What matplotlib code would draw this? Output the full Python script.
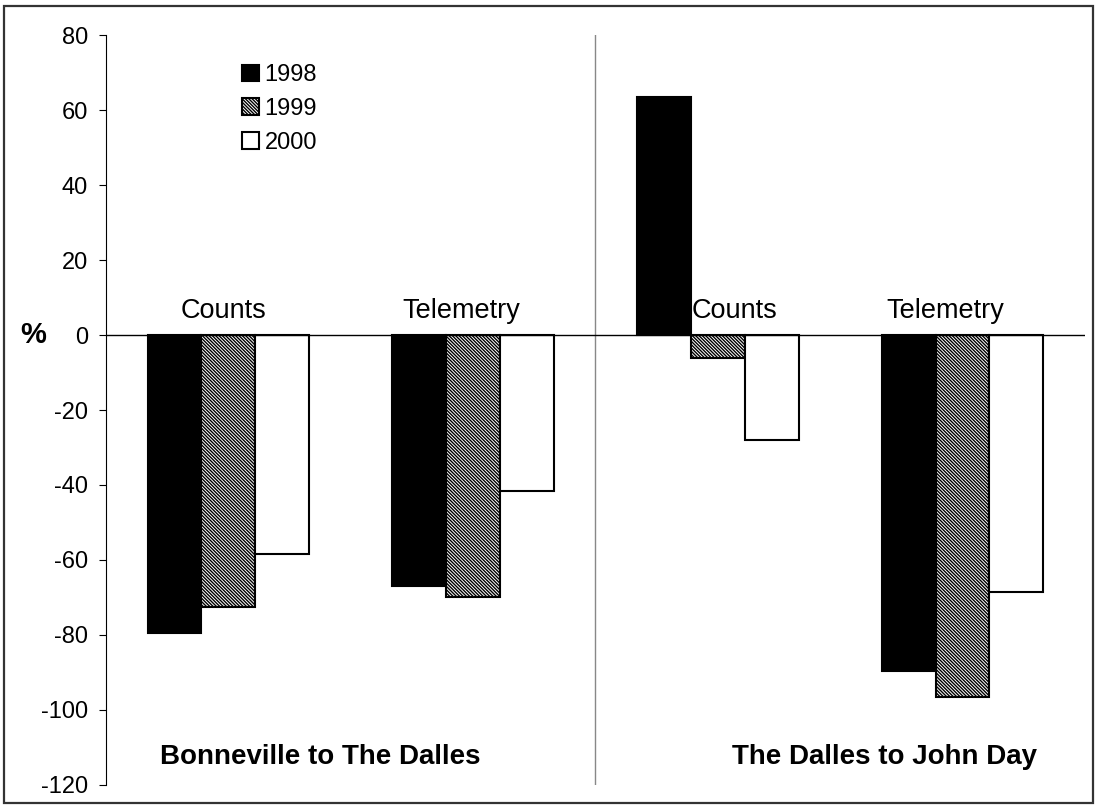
import matplotlib
matplotlib.use("Agg")
import matplotlib.pyplot as plt
import numpy as np
from matplotlib.patches import Rectangle

plt.rcParams['font.family'] = ['Liberation Sans', 'DejaVu Sans']
plt.rcParams['hatch.linewidth'] = 1.0

# ---- data ----
categories = ["Counts", "Telemetry", "Counts", "Telemetry"]
years = ["1998", "1999", "2000"]
v1998 = [-79.5, -67.0, 63.5, -89.5]
v1999 = [-72.5, -70.0, -6.0, -96.5]
v2000 = [-58.5, -41.5, -28.0, -68.5]
regions = ["Bonneville to The Dalles", "The Dalles to John Day"]
yticks = [80, 60, 40, 20, 0, -20, -40, -60, -80, -100, -120]

fig = plt.figure(figsize=(10.97, 8.09), dpi=100)
ax = fig.add_axes([0.0966, 0.0297, 0.8924, 0.927])

x = np.arange(len(categories))
w = 0.22
styles = [dict(color="black", edgecolor="black"),
          dict(color="white", edgecolor="black", hatch="\\" * 10),
          dict(color="white", edgecolor="black")]
series = [v1998, v1999, v2000]
for i, (vals, st, yr) in enumerate(zip(series, styles, years)):
    ax.bar(x + (i - 1) * w, vals, width=w, linewidth=1.5, label=yr, **st)

ax.set_xlim(-0.5, 3.5)
ax.set_ylim(-120, 80)
ax.set_yticks(yticks)
ax.set_yticklabels([str(t) for t in yticks], fontsize=17)
ax.tick_params(axis='y', direction='out', length=5, width=0.8, pad=8)
ax.set_xticks([])
for s in ["top", "right", "bottom"]:
    ax.spines[s].set_visible(False)
ax.spines["left"].set_linewidth(0.8)

ax.axhline(0, color="black", linewidth=1.0, zorder=3)
ax.axvline(1.5, color="#888888", linewidth=1.0, zorder=0)

label_dx = [-0.02, -0.05, 0.07, -0.07]
for xi, c, dx in zip(x, categories, label_dx):
    ax.text(xi + dx, 6.5, c, ha="center", va="center", fontsize=19.5, zorder=5)

for rx, r in zip([0.374, 2.679], regions):
    ax.text(rx, -112.5, r, ha="center", va="center", fontsize=20, fontweight="bold")

fig.text(33 / 1097, 1 - 335 / 809, "%", ha="center", va="center", fontsize=21, fontweight="bold")

leg = ax.legend(loc="upper left", bbox_to_anchor=(0.127, 0.977), frameon=False,
                fontsize=17, handlelength=0.7, handleheight=0.7,
                handletextpad=0.25, labelspacing=0.5, borderpad=0)

fig.patches.append(Rectangle((4 / 1097, 6 / 809), 1 - 8 / 1097, 1 - 12 / 809,
                             transform=fig.transFigure, fill=False,
                             edgecolor="#333333", linewidth=1.6))

fig.savefig("out.png", dpi=100)
